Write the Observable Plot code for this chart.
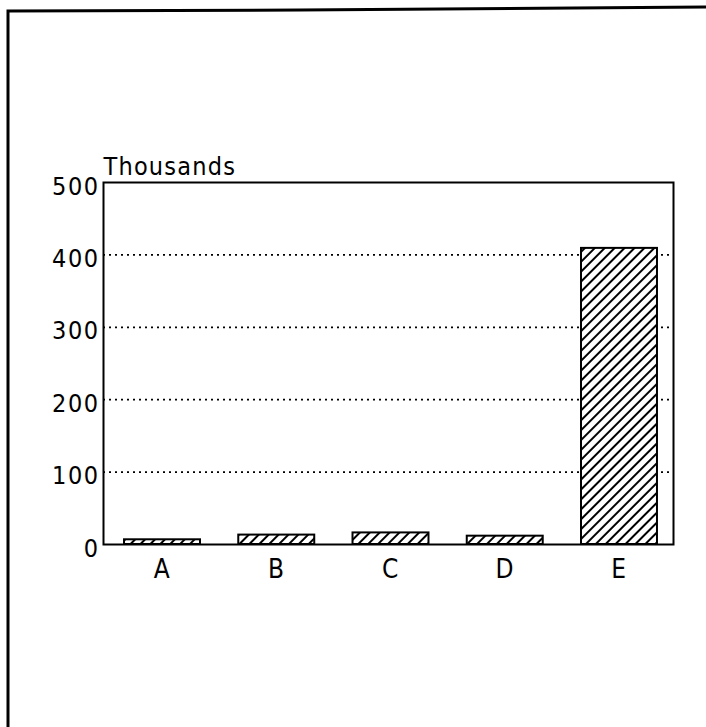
<!DOCTYPE html>
<html>
<head>
<meta charset="utf-8">
<script src="https://cdn.jsdelivr.net/npm/d3@7"></script>
<script src="https://cdn.jsdelivr.net/npm/@observablehq/plot@0.6"></script>
<style>
  html, body { margin: 0; padding: 0; background: #fff; }
  #chart svg { display: block; }
  #chart svg text { letter-spacing: 1.5px; }
  #chart svg .ylab text { letter-spacing: 1.2px; }
</style>
</head>
<body>
<div id="chart"></div>
<script>
const categories = ["A", "B", "C", "D", "E"];
const values = [6.5, 13, 16, 11.5, 409]; // thousands
const yTicks = [0, 100, 200, 300, 400, 500];
const gridTicks = [100, 200, 300, 400];
const yLabel = "Thousands";

const data = categories.map((c, i) => ({category: c, value: values[i]}));

const font = "'DejaVu Sans Condensed', 'Liberation Sans Narrow', sans-serif";

const chart = Plot.plot({
  width: 706,
  height: 727,
  marginLeft: 103,
  marginRight: 33,
  marginTop: 182,
  marginBottom: 183,
  style: {fontFamily: font, fontSize: "25px", color: "#000", background: "#fff"},
  x: {domain: categories, range: [103, 678], paddingInner: 0.335, paddingOuter: 0.184, round: false, label: null},
  y: {domain: [0, 500], label: null},
  marks: [
    Plot.gridY(gridTicks, {stroke: "#000", strokeOpacity: 1, strokeWidth: 1.8, strokeDasharray: "2,4"}),
    Plot.barY(data, {x: "category", y: "value", fill: "url(#hatch)", stroke: "#000", strokeWidth: 2}),
    Plot.frame({stroke: "#000", strokeWidth: 2}),
    Plot.axisY(yTicks, {tickSize: 0, tickPadding: 4, dy: 4, fontSize: 25, label: null}),
    Plot.axisX({tickSize: 0, tickPadding: 15, fontSize: 26, label: null}),
    Plot.text([yLabel], {frameAnchor: "top-left", textAnchor: "start", lineAnchor: "bottom", dy: -8, fontSize: 25, className: "ylab"})
  ]
});

const svg = d3.select(chart);
const defs = svg.insert("defs", ":first-child");
const pat = defs.append("pattern")
  .attr("id", "hatch")
  .attr("patternUnits", "userSpaceOnUse")
  .attr("width", 7)
  .attr("height", 7)
  .attr("patternTransform", "rotate(45)");
pat.append("rect").attr("width", 7).attr("height", 7).attr("fill", "#fff");
pat.append("line").attr("x1", 1).attr("y1", 0).attr("x2", 1).attr("y2", 7)
  .attr("stroke", "#000").attr("stroke-width", 2);

// outer page border (scan frame)
svg.append("path")
  .attr("d", "M8,727 L8,11 L300,10 L706,7")
  .attr("fill", "none")
  .attr("stroke", "#000")
  .attr("stroke-width", 3);

document.getElementById("chart").appendChild(chart);
</script>
</body>
</html>
